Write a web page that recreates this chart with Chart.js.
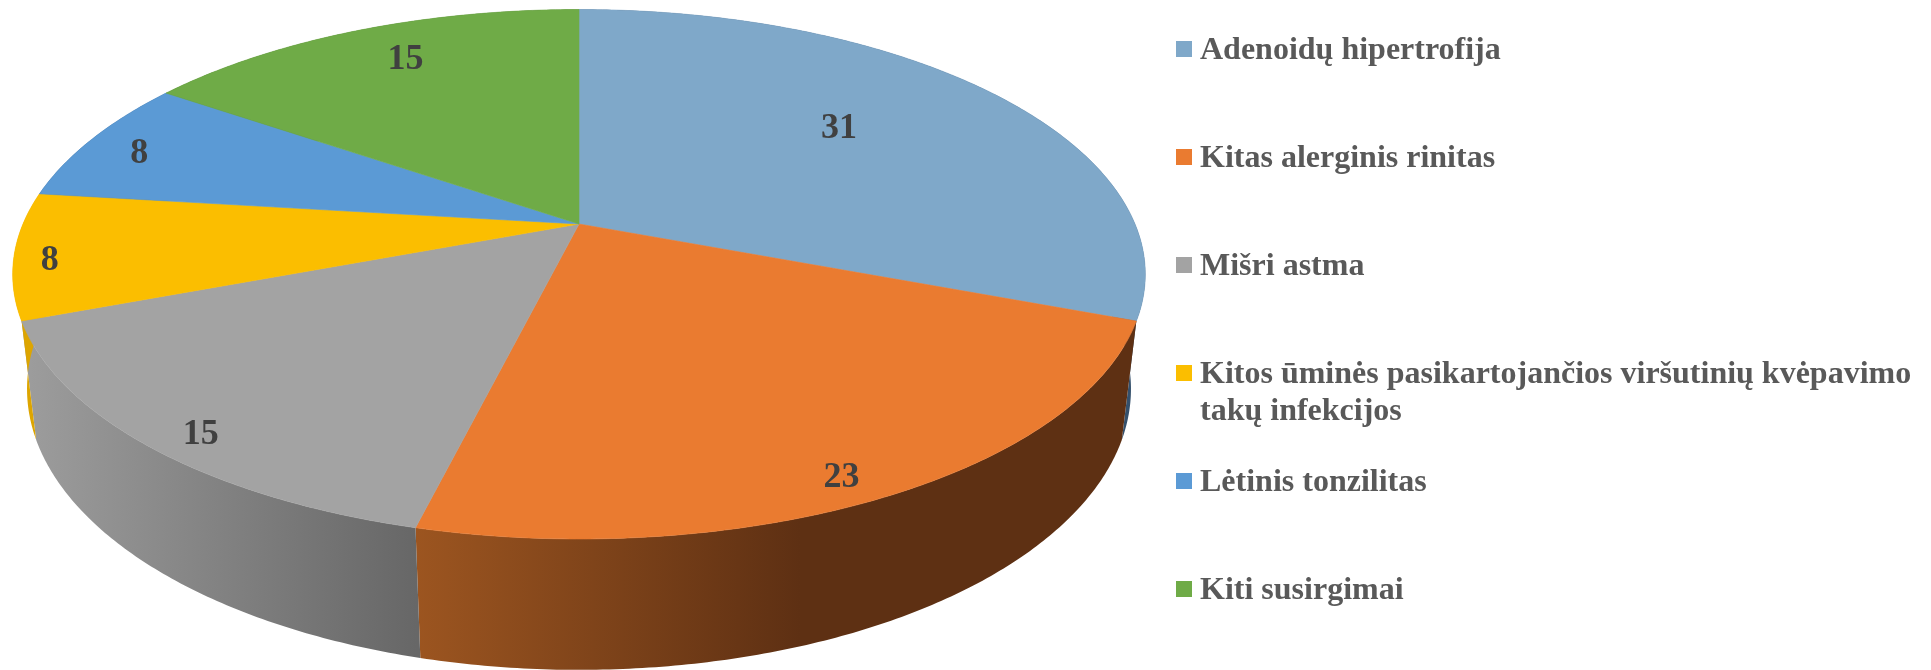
<!DOCTYPE html>
<html>
<head>
<meta charset="utf-8">
<script src="https://cdn.jsdelivr.net/npm/chart.js@4"></script>
<style>
html,body{margin:0;padding:0;background:#fff;overflow:hidden}
canvas{display:block}
</style>
</head>
<body>
<canvas id="c" width="1931" height="670"></canvas>
<script>
const categories = [
  "Adenoidų hipertrofija",
  "Kitas alerginis rinitas",
  "Mišri astma",
  ["Kitos ūminės pasikartojančios viršutinių kvėpavimo", "takų infekcijos"],
  "Lėtinis tonzilitas",
  "Kiti susirgimai"
];
// Shares; the printed labels are these, rounded.
const values = [30.77, 23.08, 15.38, 7.69, 7.69, 15.38];
const sliceColors = ["#7FA8C9", "#EA7B30", "#A3A3A3", "#FBBE00", "#5B9AD5", "#6FAB47"];
const wallColorsFrom = ["#34506C", "#9C5520", "#9C9C9C", "#DDA500", "#34506C", "#3E6428"];
const wallColorsTo = ["#34506C", "#5E3013", "#676767", "#DDA500", "#34506C", "#3E6428"];
const wallSpans = [[0,1931],[416,800],[30,416],[0,1931],[0,1931],[0,1931]];
const labelShift = [[-18,-7],[74,89],[-114,74],[-165,16],[-116,-14],[-22,-32]];

// Perspective of the lid and of the floor of the cylinder
const TOP = {k:556,   a:255.2, b:0,     c:-0.1898};
const BOT = {k:542.4, a:250.3, b:112.9, c:-0.1854};

function project(el, P, th, r) {
  const u = r * Math.sin(th), v = -r * Math.cos(th), w = 1 + P.c * v;
  return [el.x + P.k * u / w, el.y + (P.a * v + P.b) / w];
}
function rimPath(ctx, el, P, t0, t1, first) {
  const n = Math.max(2, Math.ceil(Math.abs(t1 - t0) / 0.01));
  for (let i = 0; i <= n; i++) {
    const p = project(el, P, t0 + (t1 - t0) * i / n, 1);
    (i === 0 && first) ? ctx.moveTo(p[0], p[1]) : ctx.lineTo(p[0], p[1]);
  }
}
const pie3d = {
  id: 'pie3d',
  beforeDatasetDraw(chart, args) {
    const ctx = chart.ctx, arcs = args.meta.data;
    const ang = el => [el.startAngle + Math.PI / 2, el.endAngle + Math.PI / 2];
    ctx.save();
    // side walls
    arcs.forEach((el, i) => {
      const [t0, t1] = ang(el);
      const g = ctx.createLinearGradient(wallSpans[i][0], 0, wallSpans[i][1], 0);
      g.addColorStop(0, wallColorsFrom[i]);
      g.addColorStop(1, wallColorsTo[i]);
      ctx.beginPath();
      rimPath(ctx, el, TOP, t0, t1, true);
      rimPath(ctx, el, BOT, t1, t0, false);
      ctx.closePath();
      ctx.fillStyle = g;
      ctx.fill();
    });
    // lid
    arcs.forEach((el, i) => {
      const [t0, t1] = ang(el);
      const apex = project(el, TOP, 0, 0);
      ctx.beginPath();
      ctx.moveTo(apex[0], apex[1]);
      rimPath(ctx, el, TOP, t0, t1, false);
      ctx.closePath();
      ctx.fillStyle = sliceColors[i];
      ctx.strokeStyle = sliceColors[i];
      ctx.lineWidth = 0.6;
      ctx.fill();
      ctx.stroke();
    });
    ctx.restore();
    return false;
  },
  afterDraw(chart) {
    const ctx = chart.ctx, arcs = chart.getDatasetMeta(0).data;
    ctx.save();
    // data labels
    ctx.font = 'bold 36px "Liberation Serif"';
    ctx.fillStyle = '#404040';
    ctx.textAlign = 'center';
    ctx.textBaseline = 'middle';
    arcs.forEach((el, i) => {
      const mid = (el.startAngle + el.endAngle) / 2 + Math.PI / 2;
      const p = project(el, TOP, mid, 0.65);
      ctx.fillText(String(Math.round(values[i])), p[0] + labelShift[i][0], p[1] + labelShift[i][1]);
    });
    // legend
    const LEG_X = 1176, LEG_Y = 49, ROW = 108, BOX = 16, TEXT_X = 1200, LINE = 37;
    ctx.textAlign = 'left';
    ctx.font = 'bold 32px "Liberation Serif"';
    categories.forEach((cat, i) => {
      const y = LEG_Y + ROW * i;
      ctx.fillStyle = sliceColors[i];
      ctx.fillRect(LEG_X, y - BOX / 2, BOX, BOX);
      ctx.fillStyle = '#595959';
      [].concat(cat).forEach((line, j) => ctx.fillText(line, TEXT_X, y + 2 + LINE * j));
    });
    ctx.restore();
  }
};
new Chart(document.getElementById('c'), {
  type: 'pie',
  data: { labels: categories, datasets: [{ data: values, backgroundColor: sliceColors, borderWidth: 0 }] },
  options: {
    responsive: false,
    animation: false,
    layout: { padding: { left: 13, right: 786, top: 0, bottom: 222 } },
    plugins: { legend: { display: false }, tooltip: { enabled: false } }
  },
  plugins: [pie3d]
});
</script>
</body>
</html>
